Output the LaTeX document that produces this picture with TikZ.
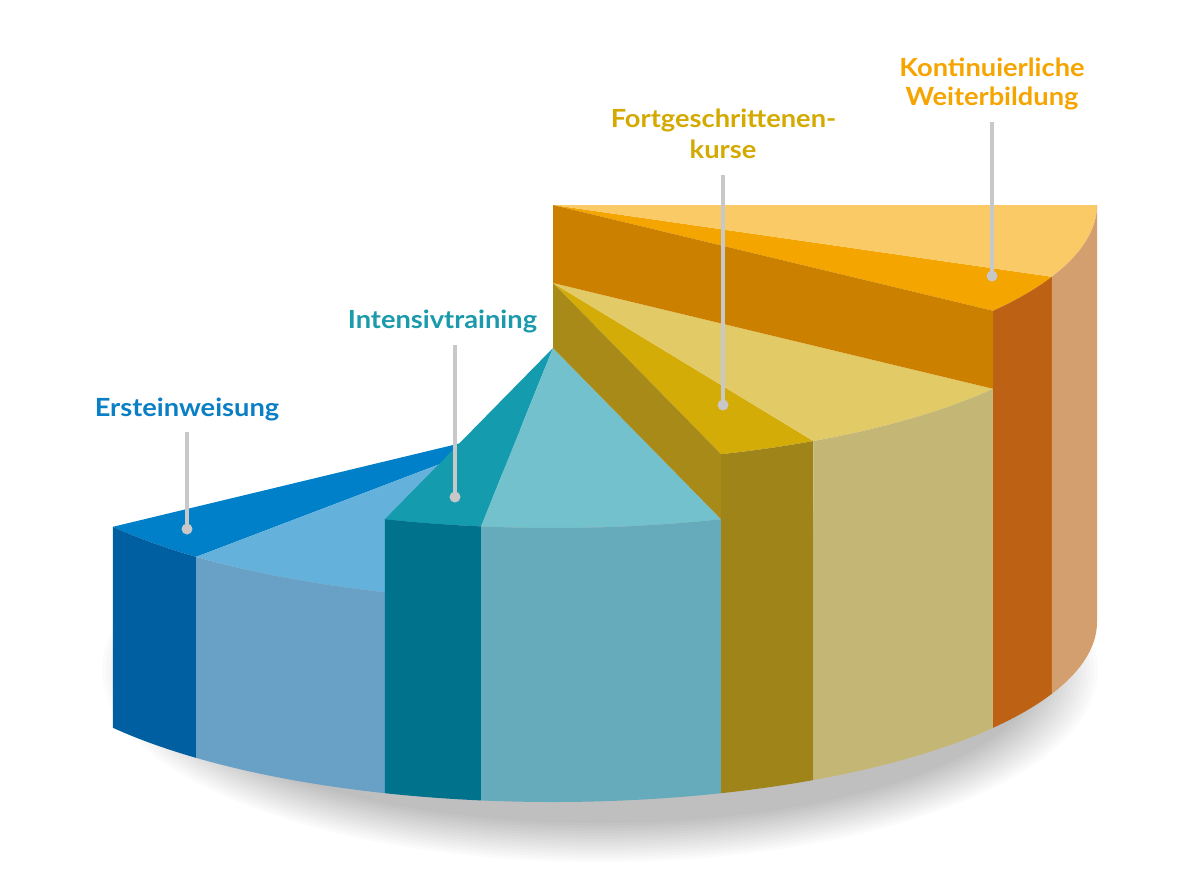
\documentclass[tikz,border=0pt]{standalone}
\usepackage{fontspec}
\setmainfont{Lato}[FakeStretch=1.09]
\definecolor{cBlueTop}{HTML}{0080C8}
\definecolor{cBlueLTop}{HTML}{64B2DC}
\definecolor{cBlueFr}{HTML}{005FA0}
\definecolor{cBlueLFr}{HTML}{68A0C6}
\definecolor{cTealTop}{HTML}{149BAD}
\definecolor{cTealLTop}{HTML}{74C1CE}
\definecolor{cTealFr}{HTML}{00728C}
\definecolor{cTealLFr}{HTML}{66ABBB}
\definecolor{cGoldTop}{HTML}{D4AC08}
\definecolor{cYelTop}{HTML}{E2CA66}
\definecolor{cOliveRad}{HTML}{A88A18}
\definecolor{cOliveFr}{HTML}{9E8419}
\definecolor{cTanFr}{HTML}{C4B775}
\definecolor{cOrRad}{HTML}{CC8000}
\definecolor{cOrTop}{HTML}{F5A500}
\definecolor{cOrLTop}{HTML}{FACA66}
\definecolor{cOrFr}{HTML}{BD6214}
\definecolor{cOrLFr}{HTML}{D49F6E}
\definecolor{tBlue}{HTML}{0A7FC6}
\definecolor{tTeal}{HTML}{1A9AAA}
\definecolor{tGold}{HTML}{D4AA00}
\definecolor{tOrange}{HTML}{F6A500}
\definecolor{leadgray}{HTML}{C8C8C8}
% top sector: level, from, to, colour
\newcommand{\pieTop}[4]{\fill[#4] (553,#1) -- plot[domain=#2:#3,samples=40] ({553+544*cos(\x)},{#1+180*sin(\x)}) -- cycle;}
% outer face: level, from, to, colour
\newcommand{\pieFront}[4]{\fill[#4] plot[domain=#2:#3,samples=40] ({553+544*cos(\x)},{#1+180*sin(\x)}) -- plot[domain=#3:#2,samples=40] ({553+544*cos(\x)},{622+180*sin(\x)}) -- cycle;}
% radial face: angle, top level, lower level, colour
\newcommand{\pieRad}[4]{\fill[#4] (553,#2) -- ({553+544*cos(#1)},{#2+180*sin(#1)}) -- ({553+544*cos(#1)},{#3+180*sin(#1)}) -- (553,#3) -- cycle;}
\begin{document}
\begin{tikzpicture}[x=1pt,y=-1pt,
  lab/.style={font=\fontsize{25}{30}\selectfont\bfseries, inner sep=0pt, anchor=base},
  leader/.style={draw=leadgray, line width=3.5pt},
  leaddot/.style={fill=leadgray}]
\useasboundingbox (0,0) rectangle (1200,868);
\fill[white] (0,0) rectangle (1200,868);
% shadow
\foreach \i in {0,...,15}{
  \fill[black, opacity=0.016] (600,670) ellipse ({498-4*\i} and {192-2.6*\i});
}
% blue level
\pieTop{421}{131}{144}{cBlueTop}
\pieTop{421}{108}{131}{cBlueLTop}
\pieFront{421}{131}{144}{cBlueFr}
\pieFront{421}{108}{131}{cBlueLFr}
% teal level
\pieTop{348}{97.6}{108}{cTealTop}
\pieTop{348}{72}{97.6}{cTealLTop}
\pieFront{348}{97.6}{108}{cTealFr}
\pieFront{348}{72}{97.6}{cTealLFr}
% yellow level
\pieTop{283}{61.4}{72}{cGoldTop}
\pieTop{283}{36}{61.4}{cYelTop}
\pieFront{283}{61.4}{72}{cOliveFr}
\pieFront{283}{36}{61.4}{cTanFr}
\pieRad{72}{283}{348}{cOliveRad}
% orange level
\pieTop{205}{23.5}{36}{cOrTop}
\pieTop{205}{0}{23.5}{cOrLTop}
\pieFront{205}{23.5}{36}{cOrFr}
\pieFront{205}{0}{23.5}{cOrLFr}
\pieRad{36}{205}{283}{cOrRad}
% labels
\node[lab, text=tBlue] (l1) at (187,416) {Ersteinweisung};
\node[lab, text=tTeal] (l2) at (442.5,328) {Intensivtraining};
\node[lab, text=tGold] (l3a) at (723.5,127) {Fortgeschrittenen-};
\node[lab, text=tGold] (l3b) at (723,158) {kurse};
\node[lab, text=tOrange] (l4a) at (992,76) {Kontinuierliche};
\node[lab, text=tOrange] (l4b) at (992,105) {Weiterbildung};
% leader lines
\coordinate (s1) at (187,432); \coordinate (d1) at (187,529);
\coordinate (s2) at (455,345); \coordinate (d2) at (455,497);
\coordinate (s3) at (723,175); \coordinate (d3) at (723,405);
\coordinate (s4) at (992,122); \coordinate (d4) at (992,276);
\foreach \k in {1,2,3,4}{
  \draw[leader] (s\k) -- (d\k);
  \fill[leaddot] (d\k) circle (5.5);
}
\end{tikzpicture}
\end{document}
